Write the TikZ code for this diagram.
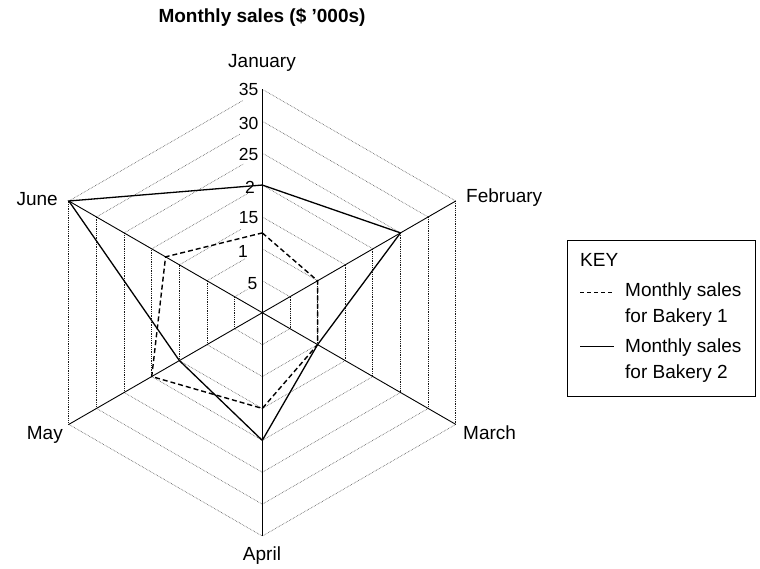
\documentclass[tikz,border=0pt]{standalone}
\usepackage{fontspec}
\setmainfont{Liberation Sans}
\begin{document}
\begin{tikzpicture}[x=1pt,y=1pt,
  ringedge/.style={black!70, line width=0.6pt, densely dotted},
  ringvert/.style={black!90, line width=0.8pt, densely dotted},
  spoke/.style={black, line width=0.9pt},
  bakeryone/.style={black, line width=1.4pt, dash pattern=on 5pt off 3pt},
  bakerytwo/.style={black, line width=1.3pt},
  keydash/.style={black, line width=1pt, dash pattern=on 4pt off 3pt},
  lbl/.style={font=\fontsize{19}{26.3}\selectfont, inner sep=0pt},
  numlbl/.style={font=\fontsize{17.5}{20}\selectfont, inner sep=0pt, anchor=east},
]
\useasboundingbox (0,0) rectangle (760,568);
\def\u{6.383}
\coordinate (O) at (262.3,255.3);
\begin{scope}[shift={(262.3,255.3)}]
  % rings of the grid
  \foreach \v/\g in {5/15,10/17,15/21,20/14,25/19,30/22,35/19} {
    \pgfmathsetmacro\r{\v*\u}
    \pgfmathsetmacro\ey{\r-0.57735*\g}
    \draw[ringedge] (150:\r) -- (-\g,\ey);
    \draw[ringedge] (90:\r) -- (30:\r);
    \draw[ringvert] (30:\r) -- (-30:\r);
    \draw[ringedge] (-30:\r) -- (-90:\r) -- (-150:\r);
    \draw[ringvert] (-150:\r) -- (150:\r);
  }
  % spoke ends
  \coordinate (jan) at (90:35*\u);
  \coordinate (feb) at (30:35*\u);
  \coordinate (mar) at (-30:35*\u);
  \coordinate (apr) at (-90:35*\u);
  \coordinate (may) at (-150:35*\u);
  \coordinate (jun) at (150:35*\u);
  % Bakery 1 values
  \coordinate (a1) at (90:12.5*\u);
  \coordinate (a2) at (30:10*\u);
  \coordinate (a3) at (-30:10*\u);
  \coordinate (a4) at (-90:15*\u);
  \coordinate (a5) at (-150:20*\u);
  \coordinate (a6) at (150:17.5*\u);
  % Bakery 2 values
  \coordinate (b1) at (90:20*\u);
  \coordinate (b2) at (30:25*\u);
  \coordinate (b3) at (-30:10*\u);
  \coordinate (b4) at (-90:20*\u);
  \coordinate (b5) at (-150:15*\u);
  \coordinate (b6) at (150:35*\u);
\end{scope}

% spokes
\draw[spoke, line width=1.3pt] (O) -- (jan);
\draw[spoke] (O) -- (feb);
\draw[spoke] (O) -- (mar);
\draw[spoke, line width=1.2pt] (O) -- (apr);
\draw[spoke] (O) -- (may);
\draw[spoke] (O) -- (jun);

% data
\draw[bakeryone] (a1) -- (a2) -- (a3) -- (a4) -- (a5) -- (a6) -- cycle;
\draw[bakerytwo] (b1) -- (b2) -- (b3) -- (b4) -- (b5) -- (b6) -- cycle;

% scale labels
\node[numlbl] (n35) at (258.5,479) {35};
\node[numlbl] (n30) at (258.5,445) {30};
\node[numlbl] (n25) at (258.5,414) {25};
\node[numlbl] (n20) at (255,381) {2};
\node[numlbl] (n15) at (258.5,350) {15};
\node[numlbl] (n10) at (248,316.3) {1};
\node[numlbl] (n5)  at (257.5,284.7) {5};

% month labels
\node[lbl] (tjan) at (262,505) {January};
\node[lbl, anchor=west] (tfeb) at (466,370) {February};
\node[lbl, anchor=west] (tmar) at (463,135) {March};
\node[lbl] (tapr) at (262,12) {April};
\node[lbl, anchor=east] (tmay) at (63,133) {May};
\node[lbl, anchor=east] (tjun) at (58,369) {June};

% title
\node[lbl, font=\fontsize{19}{22}\selectfont\bfseries] (title) at (262,550.5) {Monthly sales (\$ '000s)};

% key
\node[draw, line width=0.9pt, minimum width=188pt, minimum height=156pt, inner sep=0pt] (key) at (661,250) {};
\node[lbl, anchor=west] (keyt) at (580,308) {KEY};
\coordinate (k1a) at (580,275.3);
\coordinate (k1b) at (614,275.3);
\draw[keydash] (k1a) -- (k1b);
\node[lbl, anchor=west, align=left] (k1t) at (625,263.2) {Monthly sales\\for Bakery 1};
\coordinate (k2a) at (580,221.3);
\coordinate (k2b) at (614,221.3);
\draw[bakerytwo, line width=1.1pt] (k2a) -- (k2b);
\node[lbl, anchor=west, align=left] (k2t) at (625,207.1) {Monthly sales\\for Bakery 2};
\end{tikzpicture}
\end{document}
